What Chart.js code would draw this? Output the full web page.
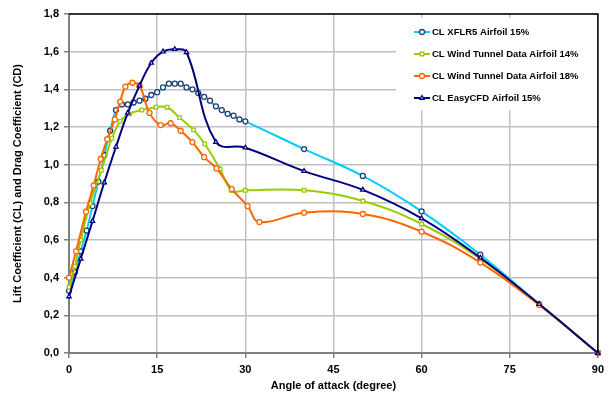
<!DOCTYPE html>
<html>
<head>
<meta charset="utf-8">
<script src="https://cdn.jsdelivr.net/npm/chart.js@4"></script>
<style>
  html, body { margin: 0; padding: 0; background: #fff; }
  #wrap { width: 609px; height: 394px; }
</style>
</head>
<body>
<div id="wrap"><canvas id="liftChart" width="609" height="394"></canvas></div>
<script>
// Angle of attack (degree) and lift coefficient per series
const xflrAngle = [0, 1, 2, 3, 4, 5, 6, 7, 8, 9, 10, 11, 12, 13, 14, 15, 16, 17, 18, 19, 20,
                   21, 22, 23, 24, 25, 26, 27, 28, 29, 30, 40, 50, 60, 70, 80, 90];
const xflrCL = [0.33, 0.43, 0.54, 0.65, 0.78, 0.91, 1.05, 1.18, 1.29, 1.32, 1.32, 1.33, 1.34, 1.35,
                1.37, 1.385, 1.41, 1.43, 1.43, 1.43, 1.41, 1.40, 1.38, 1.36, 1.34, 1.31, 1.29, 1.27,
                1.26, 1.24, 1.23, 1.083, 0.94, 0.752, 0.522, 0.26, 0.0];

const wt14Angle = [0, 1, 2, 3.6, 5.5, 7.3, 8.7, 10.3, 12.4, 14.8, 16.7, 18.8, 21.2, 23.1, 25.7, 27.7,
                   30, 40, 50, 60, 70, 80, 90];
const wt14CL = [0.35, 0.46, 0.60, 0.795, 0.97, 1.14, 1.23, 1.27, 1.29, 1.305, 1.305, 1.25, 1.185,
                1.11, 0.977, 0.862, 0.864, 0.864, 0.807, 0.685, 0.50, 0.26, 0.0];

const wt18Angle = [0, 1.2, 2.9, 4.2, 5.4, 6.5, 7.8, 8.7, 9.6, 10.8, 12, 13.7, 15.6, 17.3, 19, 21,
                   23, 25.1, 27.7, 30.4, 32.4, 40, 50, 60, 70, 80, 90];
const wt18CL = [0.40, 0.54, 0.75, 0.89, 1.03, 1.135, 1.24, 1.335, 1.414, 1.435, 1.42, 1.275, 1.21,
                1.22, 1.18, 1.12, 1.04, 0.98, 0.87, 0.78, 0.695, 0.745, 0.738, 0.644, 0.48, 0.255, 0.0];

const cfdAngle = [0, 2, 4, 6, 8, 10, 12, 14, 16, 18, 20, 25, 30, 40, 50, 60, 70, 80, 90];
const cfdCL = [0.30, 0.50, 0.70, 0.905, 1.095, 1.275, 1.42, 1.54, 1.60, 1.613, 1.597, 1.12, 1.09,
               0.966, 0.866, 0.715, 0.506, 0.26, 0.0];

const seriesNames = ['CL XFLR5 Airfoil 15%', 'CL Wind Tunnel Data Airfoil 14%',
                     'CL Wind Tunnel Data Airfoil 18%', 'CL EasyCFD Airfoil 15%'];
const xTicks = [0, 15, 30, 45, 60, 75, 90];
const yTicks = [0, 0.2, 0.4, 0.6, 0.8, 1.0, 1.2, 1.4, 1.6, 1.8];

const toPoints = (xs, ys) => xs.map((x, i) => ({ x: x, y: ys[i] }));

function series(label, xs, ys, color, marker, markerBorder, order) {
    return {
        label: label,
        data: toPoints(xs, ys),
        borderColor: color,
        backgroundColor: color,
        borderWidth: 2,
        tension: 0.4,
        pointStyle: marker,
        pointRadius: 2.5,
        pointBorderWidth: 1.3,
        pointBorderColor: markerBorder,
        pointBackgroundColor: '#ffffff',
        clip: false,
        order: order
    };
}

// legend drawn in a white box in the upper right of the plot
const boxLegend = {
    id: 'boxLegend',
    afterDatasetsDraw(chart) {
        const ctx = chart.ctx;
        const area = chart.chartArea;
        ctx.save();
        ctx.fillStyle = '#ffffff';
        ctx.fillRect(396, 18, area.right - 397, 92);
        ctx.font = 'bold 9.5px "Liberation Sans", Arial, sans-serif';
        ctx.textBaseline = 'middle';
        ctx.textAlign = 'left';
        const rows = [32, 54, 76, 98];
        chart.data.datasets.forEach((ds, i) => {
            const y = rows[i];
            ctx.strokeStyle = ds.borderColor;
            ctx.lineWidth = 2;
            ctx.beginPath();
            ctx.moveTo(414, y);
            ctx.lineTo(430, y);
            ctx.stroke();
            ctx.fillStyle = '#ffffff';
            ctx.strokeStyle = ds.pointBorderColor;
            ctx.lineWidth = 1.3;
            Chart.helpers.drawPoint(ctx, {
                pointStyle: ds.pointStyle, radius: 2.5, borderWidth: 1.3
            }, 422, y);
            ctx.fillStyle = '#000000';
            ctx.fillText(ds.label, 432, y + 0.5);
        });
        // black frame on top and right
        ctx.strokeStyle = '#000000';
        ctx.lineWidth = 1.5;
        ctx.beginPath();
        ctx.moveTo(area.left, area.top);
        ctx.lineTo(area.right, area.top);
        ctx.lineTo(area.right, area.bottom);
        ctx.stroke();
        ctx.restore();
    }
};

const ctx = document.getElementById('liftChart').getContext('2d');
const liftChart = new Chart(ctx, {
    type: 'line',
    data: {
        datasets: [
            series(seriesNames[0], xflrAngle, xflrCL, '#00ccff', 'circle', '#1f3b73', 3),
            series(seriesNames[1], wt14Angle, wt14CL, '#99cc00', 'rect', '#99cc00', 2),
            series(seriesNames[2], wt18Angle, wt18CL, '#ff6600', 'circle', '#ff6600', 1),
            series(seriesNames[3], cfdAngle, cfdCL, '#000080', 'triangle', '#000080', 0)
        ]
    },
    options: {
        responsive: false,
        animation: false,
        layout: {
            padding: { top: 14, right: 11, left: 0, bottom: 0 }
        },
        plugins: {
            legend: { display: false },
            tooltip: { enabled: false }
        },
        scales: {
            x: {
                type: 'linear',
                min: 0,
                max: 90,
                afterBuildTicks: (scale) => { scale.ticks = xTicks.map(v => ({ value: v })); },
                afterFit: (scale) => { scale.height = 41; },
                grid: { color: '#c0c0c0', lineWidth: 1.5, tickColor: '#808080', tickLength: 5 },
                border: { color: '#808080', width: 2 },
                ticks: {
                    color: '#000',
                    padding: 5,
                    maxRotation: 0,
                    font: { family: '"Liberation Sans", Arial, sans-serif', size: 11, weight: 'bold' }
                },
                title: {
                    display: true,
                    text: 'Angle of attack (degree)',
                    color: '#000',
                    padding: { top: 0, bottom: 1 },
                    font: { family: '"Liberation Sans", Arial, sans-serif', size: 11, weight: 'bold' }
                }
            },
            y: {
                min: 0,
                max: 1.8,
                afterBuildTicks: (scale) => { scale.ticks = yTicks.map(v => ({ value: v })); },
                afterFit: (scale) => { scale.width = 69; },
                grid: { color: '#c0c0c0', lineWidth: 1.5, tickColor: '#808080', tickLength: 5 },
                border: { color: '#808080', width: 2 },
                ticks: {
                    color: '#000',
                    padding: 5,
                    font: { family: '"Liberation Sans", Arial, sans-serif', size: 11, weight: 'bold' },
                    callback: (v) => Number(v).toFixed(1).replace('.', ',')
                },
                title: {
                    display: true,
                    text: 'Lift Coefficient (CL) and Drag Coefficient (CD)',
                    color: '#000',
                    padding: { top: 11, bottom: 0 },
                    font: { family: '"Liberation Sans", Arial, sans-serif', size: 11, weight: 'bold' }
                }
            }
        }
    },
    plugins: [boxLegend]
});
</script>
</body>
</html>
